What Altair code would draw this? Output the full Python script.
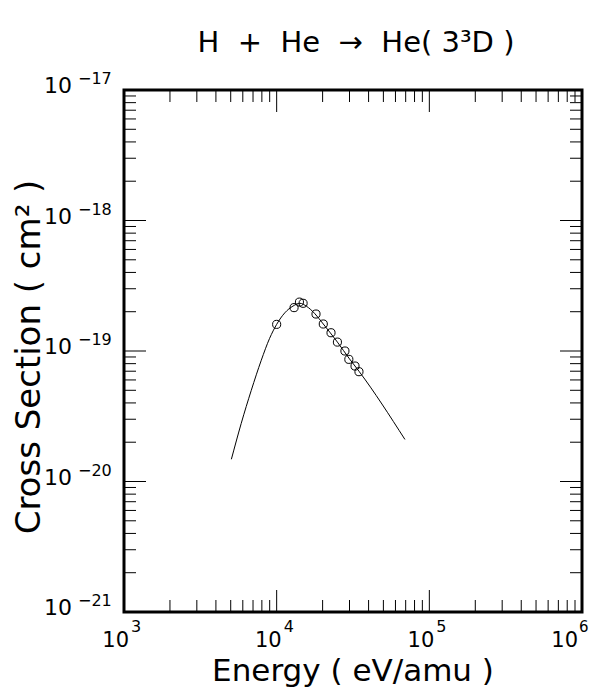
import altair as alt
import pandas as pd

# ---- data ----
curve_energy = [5050, 5860, 6820, 7930, 8990, 10000, 11300, 12800, 14200, 15700,
                17800, 20200, 25000, 30000, 34600, 69200]
curve_sigma = [1.48e-20, 2.79e-20, 5.0e-20, 8.5e-20, 1.25e-19, 1.6e-19, 1.96e-19,
               2.21e-19, 2.32e-19, 2.2e-19, 1.93e-19, 1.61e-19, 1.17e-19, 8.7e-20,
               7.0e-20, 2.10e-20]

pts_energy = [10000, 13000, 14100, 14900, 18100, 20200, 22700, 25000, 28000,
              29700, 32600, 34600]
pts_sigma = [1.60e-19, 2.15e-19, 2.37e-19, 2.32e-19, 1.92e-19, 1.61e-19, 1.38e-19,
             1.17e-19, 1.0e-19, 8.63e-20, 7.67e-20, 6.94e-20]

x_major = [1e3, 1e4, 1e5]
x_exp = ["3", "4", "5"]
x_last = [1e6]
x_last_exp = ["6"]
y_major = [1e-21, 1e-20, 1e-19, 1e-18, 1e-17]
y_exp = ["\u221221", "\u221220", "\u221219", "\u221218", "\u221217"]

x_minor = [k * 10.0 ** n for n in (3, 4, 5) for k in range(2, 10)]
y_minor = [k * 10.0 ** n for n in (-21, -20, -19, -18) for k in range(2, 10)]

NB = "\u00a0"
title_txt = f"H{NB}{NB}+{NB}{NB}He{NB}{NB}\u2192{NB}{NB}He({NB}3\u00b3D{NB})"
xtitle_txt = "Energy ( eV/amu )"
ytitle_txt = "Cross Section ( cm\u00b2 )"

W, H = 458, 522
FONT = "DejaVu Sans"

xs = alt.Scale(type="log", domain=[1e3, 1e6], nice=False)
ys = alt.Scale(type="log", domain=[1e-21, 1e-17], nice=False)

curve_df = pd.DataFrame({"E": curve_energy, "S": curve_sigma})
pts_df = pd.DataFrame({"E": pts_energy, "S": pts_sigma})
xmaj_df = pd.DataFrame({"E": x_major, "exp": x_exp, "base": ["10"] * len(x_major)})
xlast_df = pd.DataFrame({"E": x_last, "exp": x_last_exp, "base": ["10"]})
xall_df = pd.DataFrame({"E": x_major + x_last})
ymaj_df = pd.DataFrame({"S": y_major, "exp": y_exp, "base": ["10"] * 5})
xmin_df = pd.DataFrame({"E": x_minor})
ymin_df = pd.DataFrame({"S": y_minor})

X = alt.X("E:Q", scale=xs, axis=None)
Y = alt.Y("S:Q", scale=ys, axis=None)

line = alt.Chart(curve_df).mark_line(color="black", strokeWidth=1,
                                     interpolate="monotone").encode(x=X, y=Y)
points = alt.Chart(pts_df).mark_point(shape="circle", filled=False, color="black",
                                      size=66, strokeWidth=1, opacity=1).encode(x=X, y=Y)

MAJ, MIN = 22, 12

def xticks(df, length):
    bottom = alt.Chart(df).mark_rule(color="black", strokeWidth=1).encode(
        x=X, y=alt.value(H), y2=alt.value(H - length))
    top = alt.Chart(df).mark_rule(color="black", strokeWidth=1).encode(
        x=X, y=alt.value(0), y2=alt.value(length))
    return [bottom, top]

def yticks(df, length):
    left = alt.Chart(df).mark_rule(color="black", strokeWidth=1).encode(
        y=Y, x=alt.value(0), x2=alt.value(length))
    right = alt.Chart(df).mark_rule(color="black", strokeWidth=1).encode(
        y=Y, x=alt.value(W), x2=alt.value(W - length))
    return [left, right]

ticks = xticks(xmin_df, MIN) + xticks(xall_df, MAJ) + yticks(ymin_df, MIN) + yticks(ymaj_df, MAJ)

ylab_base = alt.Chart(ymaj_df).mark_text(align="right", baseline="alphabetic",
                                         fontSize=22, dy=3, font=FONT).encode(
    y=Y, x=alt.value(-52), text="base:N")
ylab_exp = alt.Chart(ymaj_df).mark_text(align="left", baseline="alphabetic",
                                        fontSize=16, dy=-6, font=FONT).encode(
    y=Y, x=alt.value(-46), text="exp:N")

xlab_base = alt.Chart(xmaj_df).mark_text(align="right", baseline="alphabetic",
                                         fontSize=21, dx=5, font=FONT).encode(
    x=X, y=alt.value(557), text="base:N")
xlab_exp = alt.Chart(xmaj_df).mark_text(align="left", baseline="alphabetic",
                                        fontSize=16, dx=7, font=FONT).encode(
    x=X, y=alt.value(542), text="exp:N")
xlast_base = alt.Chart(xlast_df).mark_text(align="right", baseline="alphabetic",
                                           fontSize=21, dx=-4, font=FONT).encode(
    x=X, y=alt.value(557), text="base:N")
xlast_exp = alt.Chart(xlast_df).mark_text(align="left", baseline="alphabetic",
                                          fontSize=15, dx=-3, font=FONT).encode(
    x=X, y=alt.value(542), text="exp:N")

title = alt.Chart(pd.DataFrame({"t": [title_txt]})).mark_text(
    align="center", baseline="alphabetic", fontSize=29, font=FONT).encode(
    x=alt.value(W / 2 + 3), y=alt.value(-38), text="t:N")
xtitle = alt.Chart(pd.DataFrame({"t": [xtitle_txt]})).mark_text(
    align="center", baseline="alphabetic", fontSize=31, font=FONT).encode(
    x=alt.value(W / 2), y=alt.value(591), text="t:N")
ytitle = alt.Chart(pd.DataFrame({"t": [ytitle_txt]})).mark_text(
    align="center", baseline="alphabetic", fontSize=34, font=FONT, angle=270).encode(
    x=alt.value(-84), y=alt.value(267), text="t:N")

chart = alt.layer(line, points, *ticks, ylab_base, ylab_exp, xlab_base, xlab_exp,
                  xlast_base, xlast_exp, title, xtitle, ytitle).properties(
    width=W, height=H,
    autosize=alt.AutoSizeParams(type="none"),
    padding={"left": 116, "top": 82, "right": 8, "bottom": 76},
).configure_view(stroke="black", strokeWidth=3)

chart.save("out.html", embed_options={"renderer": "svg", "actions": False})
